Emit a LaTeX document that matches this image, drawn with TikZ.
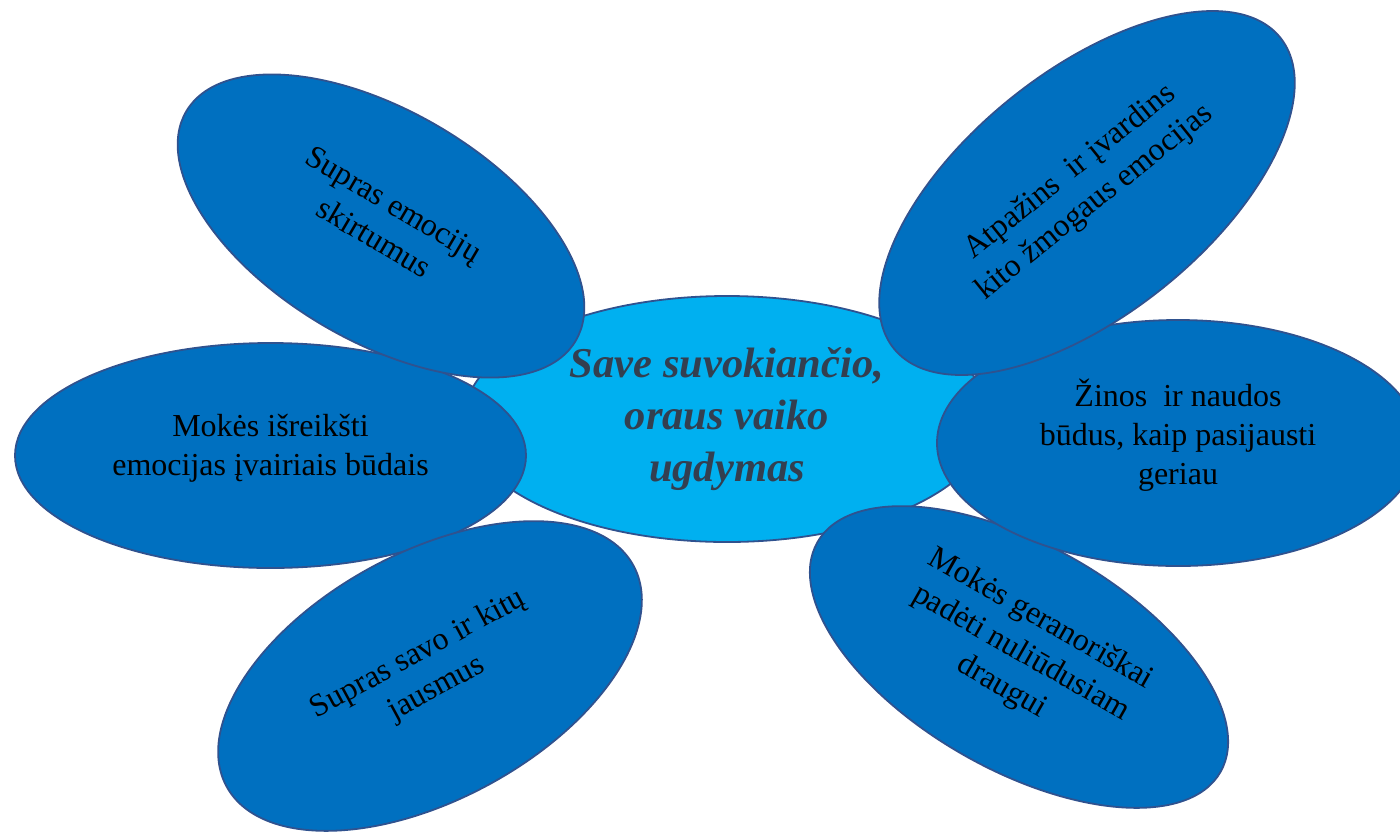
\documentclass[tikz,border=0pt]{standalone}
\usepackage{fontspec}
\setmainfont{Liberation Serif}
\usetikzlibrary{shapes.geometric}
\definecolor{petalfill}{HTML}{0070C0}
\definecolor{petalline}{HTML}{2F528F}
\definecolor{corefill}{HTML}{00B0F0}
\definecolor{coretext}{HTML}{333F50}
\tikzset{
  petal/.style={ellipse, draw=petalline, fill=petalfill, line width=1.8pt, inner sep=0pt},
  coreshape/.style={ellipse, draw=petalline, fill=corefill, line width=1.8pt, inner sep=0pt},
  petaltext/.style={align=center, inner sep=0pt, text=black, font=\fontsize{32}{39}\selectfont},
  coretxt/.style={align=center, inner sep=0pt, text=coretext, font=\fontsize{42.5}{52}\selectfont\bfseries\itshape},
}
\begin{document}
\begin{tikzpicture}[x=1pt,y=-1pt]
\useasboundingbox (0,0) rectangle (1400,831);
\clip (0,0) rectangle (1400,831);
\node[coreshape, minimum width=526pt, minimum height=246pt] (c0) at (727,419) {};
\node[petal, minimum width=464pt, minimum height=225pt, rotate=-29.7] (br) at (1019,657) {};
\node[petal, minimum width=482pt, minimum height=246pt] (rm) at (1178,443) {};
\node[petal, minimum width=496pt, minimum height=243pt, rotate=38.8] (tr) at (1087,193) {};
\node[petal, minimum width=511pt, minimum height=225pt] (lm) at (270.5,455.5) {};
\node[petal, minimum width=463pt, minimum height=247pt, rotate=28.5] (bl) at (430,676) {};
\node[petal, minimum width=452pt, minimum height=230pt, rotate=-30.5] (tl) at (381,226) {};
\node[coretxt] (c0t) at (c0.center) {Save suvokiančio,\\oraus vaiko\\ugdymas};
\node[petaltext, rotate=-29.7] (brt) at ([shift={(60.3:4pt)}]br.center) {Mokės geranoriškai\\padėti nuliūdusiam\\draugui};
\node[petaltext] (rmt) at ([shift={(90:8pt)}]rm.center) {Žinos\ \ ir naudos\\būdus, kaip pasijausti\\geriau};
\node[petaltext, rotate=38.8] (trt) at ([shift={(128.8:7pt)}]tr.center) {Atpažins\ \ ir įvardins\\kito žmogaus emocijas};
\node[petaltext] (lmt) at ([shift={(90:7pt)}]lm.center) {Mokės išreikšti\\emocijas įvairiais būdais};
\node[petaltext, rotate=28.5] (blt) at ([shift={(118.5:5pt)}]bl.center) {Supras savo ir kitų\\jausmus};
\node[petaltext, rotate=-30.5] (tlt) at ([shift={(59.5:6pt)}]tl.center) {Supras emocijų\\skirtumus};
\end{tikzpicture}
\end{document}
